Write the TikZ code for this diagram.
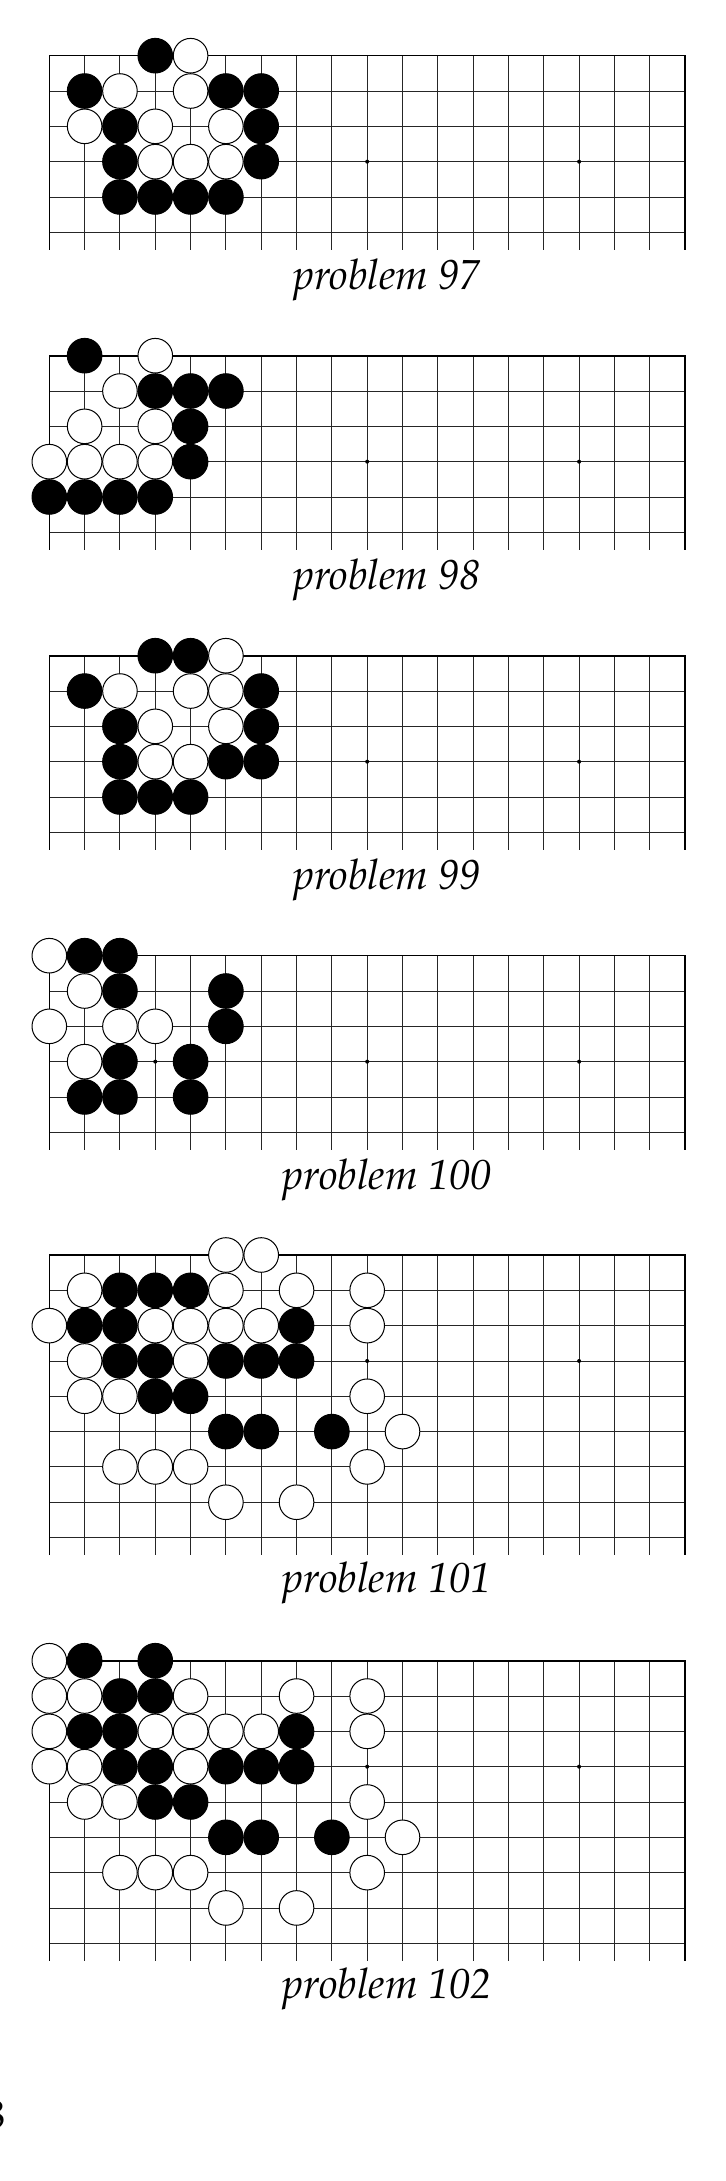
\documentclass[tikz,border=0pt]{standalone}
\usepackage[T1]{fontenc}
\usepackage{mathpazo}
\usepackage{tikz}

\begin{document}
\begin{tikzpicture}[x=17.66pt,y=-17.66pt,
  gridline/.style={line width=0.45pt,black!85},
  edge/.style={line width=0.8pt,black},
  bstone/.style={circle,draw,fill=black,line width=0.5pt,inner sep=0pt,minimum size=17.3pt},
  wstone/.style={circle,draw,fill=white,line width=0.5pt,inner sep=0pt,minimum size=17.3pt},
  caption/.style={anchor=base,font=\fontsize{21}{25}\selectfont\itshape}]
  \useasboundingbox (0,0) rectangle (20.527,61.75);

  % problem 97
  \begin{scope}[shift={(1.396,1.577)}]
    \foreach \i in {1,...,17} \draw[gridline] (\i,0) -- (\i,5.5);
    \foreach \j in {1,...,5} \draw[gridline] (0,\j) -- (18,\j);
    \draw[edge] (0,5.5) -- (0,0) -- (18,0) -- (18,5.5);
    \foreach \c in {3,9,15} \fill (\c,3) circle (1pt);
    \node[bstone] (p97b1) at (3,0) {};
    \node[bstone] (p97b2) at (1,1) {};
    \node[bstone] (p97b3) at (5,1) {};
    \node[bstone] (p97b4) at (6,1) {};
    \node[bstone] (p97b5) at (2,2) {};
    \node[bstone] (p97b6) at (6,2) {};
    \node[bstone] (p97b7) at (2,3) {};
    \node[bstone] (p97b8) at (6,3) {};
    \node[bstone] (p97b9) at (2,4) {};
    \node[bstone] (p97b10) at (3,4) {};
    \node[bstone] (p97b11) at (4,4) {};
    \node[bstone] (p97b12) at (5,4) {};
    \node[wstone] (p97w1) at (4,0) {};
    \node[wstone] (p97w2) at (2,1) {};
    \node[wstone] (p97w3) at (4,1) {};
    \node[wstone] (p97w4) at (1,2) {};
    \node[wstone] (p97w5) at (3,2) {};
    \node[wstone] (p97w6) at (5,2) {};
    \node[wstone] (p97w7) at (3,3) {};
    \node[wstone] (p97w8) at (4,3) {};
    \node[wstone] (p97w9) at (5,3) {};
    \node[caption] (t97) at (9.561,6.63) {problem 97};
  \end{scope}

  % problem 98
  \begin{scope}[shift={(1.396,10.071)}]
    \foreach \i in {1,...,17} \draw[gridline] (\i,0) -- (\i,5.5);
    \foreach \j in {1,...,5} \draw[gridline] (0,\j) -- (18,\j);
    \draw[edge] (0,5.5) -- (0,0) -- (18,0) -- (18,5.5);
    \foreach \c in {3,9,15} \fill (\c,3) circle (1pt);
    \node[bstone] (p98b1) at (1,0) {};
    \node[bstone] (p98b2) at (3,1) {};
    \node[bstone] (p98b3) at (4,1) {};
    \node[bstone] (p98b4) at (5,1) {};
    \node[bstone] (p98b5) at (4,2) {};
    \node[bstone] (p98b6) at (4,3) {};
    \node[bstone] (p98b7) at (0,4) {};
    \node[bstone] (p98b8) at (1,4) {};
    \node[bstone] (p98b9) at (2,4) {};
    \node[bstone] (p98b10) at (3,4) {};
    \node[wstone] (p98w1) at (3,0) {};
    \node[wstone] (p98w2) at (2,1) {};
    \node[wstone] (p98w3) at (1,2) {};
    \node[wstone] (p98w4) at (3,2) {};
    \node[wstone] (p98w5) at (0,3) {};
    \node[wstone] (p98w6) at (1,3) {};
    \node[wstone] (p98w7) at (2,3) {};
    \node[wstone] (p98w8) at (3,3) {};
    \node[caption] (t98) at (9.561,6.63) {problem 98};
  \end{scope}

  % problem 99
  \begin{scope}[shift={(1.396,18.565)}]
    \foreach \i in {1,...,17} \draw[gridline] (\i,0) -- (\i,5.5);
    \foreach \j in {1,...,5} \draw[gridline] (0,\j) -- (18,\j);
    \draw[edge] (0,5.5) -- (0,0) -- (18,0) -- (18,5.5);
    \foreach \c in {3,9,15} \fill (\c,3) circle (1pt);
    \node[bstone] (p99b1) at (3,0) {};
    \node[bstone] (p99b2) at (4,0) {};
    \node[bstone] (p99b3) at (1,1) {};
    \node[bstone] (p99b4) at (6,1) {};
    \node[bstone] (p99b5) at (2,2) {};
    \node[bstone] (p99b6) at (6,2) {};
    \node[bstone] (p99b7) at (2,3) {};
    \node[bstone] (p99b8) at (5,3) {};
    \node[bstone] (p99b9) at (6,3) {};
    \node[bstone] (p99b10) at (2,4) {};
    \node[bstone] (p99b11) at (3,4) {};
    \node[bstone] (p99b12) at (4,4) {};
    \node[wstone] (p99w1) at (5,0) {};
    \node[wstone] (p99w2) at (2,1) {};
    \node[wstone] (p99w3) at (4,1) {};
    \node[wstone] (p99w4) at (5,1) {};
    \node[wstone] (p99w5) at (3,2) {};
    \node[wstone] (p99w6) at (5,2) {};
    \node[wstone] (p99w7) at (3,3) {};
    \node[wstone] (p99w8) at (4,3) {};
    \node[caption] (t99) at (9.561,6.63) {problem 99};
  \end{scope}

  % problem 100
  \begin{scope}[shift={(1.396,27.058)}]
    \foreach \i in {1,...,17} \draw[gridline] (\i,0) -- (\i,5.5);
    \foreach \j in {1,...,5} \draw[gridline] (0,\j) -- (18,\j);
    \draw[edge] (0,5.5) -- (0,0) -- (18,0) -- (18,5.5);
    \foreach \c in {3,9,15} \fill (\c,3) circle (1pt);
    \node[bstone] (p100b1) at (1,0) {};
    \node[bstone] (p100b2) at (2,0) {};
    \node[bstone] (p100b3) at (2,1) {};
    \node[bstone] (p100b4) at (5,1) {};
    \node[bstone] (p100b5) at (5,2) {};
    \node[bstone] (p100b6) at (2,3) {};
    \node[bstone] (p100b7) at (4,3) {};
    \node[bstone] (p100b8) at (1,4) {};
    \node[bstone] (p100b9) at (2,4) {};
    \node[bstone] (p100b10) at (4,4) {};
    \node[wstone] (p100w1) at (0,0) {};
    \node[wstone] (p100w2) at (1,1) {};
    \node[wstone] (p100w3) at (0,2) {};
    \node[wstone] (p100w4) at (2,2) {};
    \node[wstone] (p100w5) at (3,2) {};
    \node[wstone] (p100w6) at (1,3) {};
    \node[caption] (t100) at (9.561,6.63) {problem 100};
  \end{scope}

  % problem 101
  \begin{scope}[shift={(1.396,35.532)}]
    \foreach \i in {1,...,17} \draw[gridline] (\i,0) -- (\i,8.5);
    \foreach \j in {1,...,8} \draw[gridline] (0,\j) -- (18,\j);
    \draw[edge] (0,8.5) -- (0,0) -- (18,0) -- (18,8.5);
    \foreach \c in {3,9,15} \fill (\c,3) circle (1pt);
    \node[bstone] (p101b1) at (2,1) {};
    \node[bstone] (p101b2) at (3,1) {};
    \node[bstone] (p101b3) at (4,1) {};
    \node[bstone] (p101b4) at (1,2) {};
    \node[bstone] (p101b5) at (2,2) {};
    \node[bstone] (p101b6) at (7,2) {};
    \node[bstone] (p101b7) at (2,3) {};
    \node[bstone] (p101b8) at (3,3) {};
    \node[bstone] (p101b9) at (5,3) {};
    \node[bstone] (p101b10) at (6,3) {};
    \node[bstone] (p101b11) at (7,3) {};
    \node[bstone] (p101b12) at (3,4) {};
    \node[bstone] (p101b13) at (4,4) {};
    \node[bstone] (p101b14) at (5,5) {};
    \node[bstone] (p101b15) at (6,5) {};
    \node[bstone] (p101b16) at (8,5) {};
    \node[wstone] (p101w1) at (5,0) {};
    \node[wstone] (p101w2) at (6,0) {};
    \node[wstone] (p101w3) at (1,1) {};
    \node[wstone] (p101w4) at (5,1) {};
    \node[wstone] (p101w5) at (7,1) {};
    \node[wstone] (p101w6) at (9,1) {};
    \node[wstone] (p101w7) at (0,2) {};
    \node[wstone] (p101w8) at (3,2) {};
    \node[wstone] (p101w9) at (4,2) {};
    \node[wstone] (p101w10) at (5,2) {};
    \node[wstone] (p101w11) at (6,2) {};
    \node[wstone] (p101w12) at (9,2) {};
    \node[wstone] (p101w13) at (1,3) {};
    \node[wstone] (p101w14) at (4,3) {};
    \node[wstone] (p101w15) at (1,4) {};
    \node[wstone] (p101w16) at (2,4) {};
    \node[wstone] (p101w17) at (9,4) {};
    \node[wstone] (p101w18) at (10,5) {};
    \node[wstone] (p101w19) at (2,6) {};
    \node[wstone] (p101w20) at (3,6) {};
    \node[wstone] (p101w21) at (4,6) {};
    \node[wstone] (p101w22) at (9,6) {};
    \node[wstone] (p101w23) at (5,7) {};
    \node[wstone] (p101w24) at (7,7) {};
    \node[caption] (t101) at (9.561,9.55) {problem 101};
  \end{scope}

  % problem 102
  \begin{scope}[shift={(1.396,47.019)}]
    \foreach \i in {1,...,17} \draw[gridline] (\i,0) -- (\i,8.5);
    \foreach \j in {1,...,8} \draw[gridline] (0,\j) -- (18,\j);
    \draw[edge] (0,8.5) -- (0,0) -- (18,0) -- (18,8.5);
    \foreach \c in {3,9,15} \fill (\c,3) circle (1pt);
    \node[bstone] (p102b1) at (1,0) {};
    \node[bstone] (p102b2) at (3,0) {};
    \node[bstone] (p102b3) at (2,1) {};
    \node[bstone] (p102b4) at (3,1) {};
    \node[bstone] (p102b5) at (1,2) {};
    \node[bstone] (p102b6) at (2,2) {};
    \node[bstone] (p102b7) at (7,2) {};
    \node[bstone] (p102b8) at (2,3) {};
    \node[bstone] (p102b9) at (3,3) {};
    \node[bstone] (p102b10) at (5,3) {};
    \node[bstone] (p102b11) at (6,3) {};
    \node[bstone] (p102b12) at (7,3) {};
    \node[bstone] (p102b13) at (3,4) {};
    \node[bstone] (p102b14) at (4,4) {};
    \node[bstone] (p102b15) at (5,5) {};
    \node[bstone] (p102b16) at (6,5) {};
    \node[bstone] (p102b17) at (8,5) {};
    \node[wstone] (p102w1) at (0,0) {};
    \node[wstone] (p102w2) at (0,1) {};
    \node[wstone] (p102w3) at (1,1) {};
    \node[wstone] (p102w4) at (4,1) {};
    \node[wstone] (p102w5) at (7,1) {};
    \node[wstone] (p102w6) at (9,1) {};
    \node[wstone] (p102w7) at (0,2) {};
    \node[wstone] (p102w8) at (3,2) {};
    \node[wstone] (p102w9) at (4,2) {};
    \node[wstone] (p102w10) at (5,2) {};
    \node[wstone] (p102w11) at (6,2) {};
    \node[wstone] (p102w12) at (9,2) {};
    \node[wstone] (p102w13) at (0,3) {};
    \node[wstone] (p102w14) at (1,3) {};
    \node[wstone] (p102w15) at (4,3) {};
    \node[wstone] (p102w16) at (1,4) {};
    \node[wstone] (p102w17) at (2,4) {};
    \node[wstone] (p102w18) at (9,4) {};
    \node[wstone] (p102w19) at (10,5) {};
    \node[wstone] (p102w20) at (2,6) {};
    \node[wstone] (p102w21) at (3,6) {};
    \node[wstone] (p102w22) at (4,6) {};
    \node[wstone] (p102w23) at (9,6) {};
    \node[wstone] (p102w24) at (5,7) {};
    \node[wstone] (p102w25) at (7,7) {};
    \node[caption] (t102) at (9.561,9.55) {problem 102};
  \end{scope}

  % page number
  \node[anchor=base east,inner sep=0pt,font=\fontsize{20}{24}\selectfont] (pageno) at (0.17,60.25) {8};
\end{tikzpicture}
\end{document}
